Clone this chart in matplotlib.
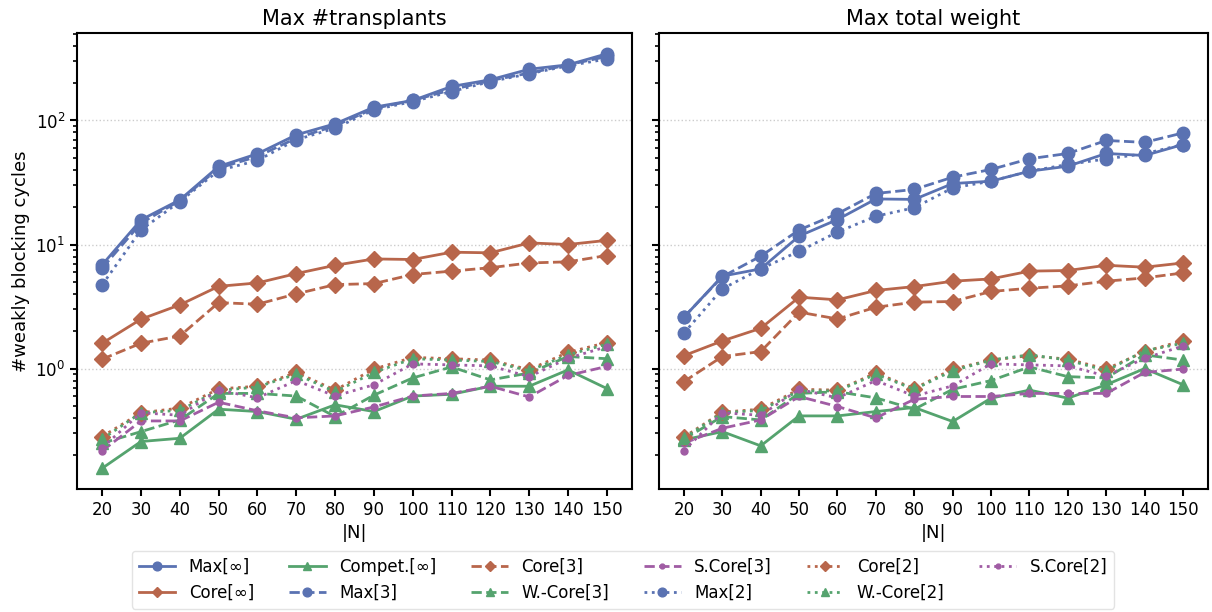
import matplotlib
matplotlib.use("Agg")
import matplotlib.pyplot as plt

n_vals = [20, 30, 40, 50, 60, 70, 80, 90, 100, 110, 120, 130, 140, 150]
panel_titles = ["Max #transplants", "Max total weight"]

# Left panel: maximum number of transplants
left = {
    "Max[∞]":     [6.86, 15.8, 22.9, 42.6, 53.9, 76.6, 94, 128, 145, 188, 213, 259, 281, 345],
    "Core[∞]":    [1.6, 2.5, 3.26, 4.6, 4.9, 5.83, 6.8, 7.65, 7.57, 8.67, 8.57, 10.3, 10.0, 10.8],
    "Compet.[∞]": [0.157, 0.258, 0.274, 0.47, 0.45, 0.39, 0.51, 0.45, 0.60, 0.62, 0.72, 0.72, 0.975, 0.69],
    "Max[3]":     [6.45, 14.9, 22.6, 41.3, 51.3, 72, 90.6, 125, 145, 177, 210, 241, 281, 328],
    "Core[3]":    [1.19, 1.6, 1.83, 3.4, 3.3, 4.0, 4.75, 4.84, 5.73, 6.1, 6.5, 7.1, 7.25, 8.15],
    "W.-Core[3]": [0.25, 0.31, 0.385, 0.63, 0.63, 0.60, 0.41, 0.61, 0.84, 1.03, 0.81, 0.92, 1.25, 1.2],
    "S.Core[3]":  [0.217, 0.378, 0.378, 0.535, 0.456, 0.40, 0.415, 0.49, 0.60, 0.63, 0.72, 0.59, 0.88, 1.04],
    "Max[2]":     [4.73, 13.1, 22.2, 39.5, 47.6, 69.9, 86.7, 122, 142, 171, 206, 238, 276, 313],
    "Core[2]":    [0.283, 0.44, 0.48, 0.685, 0.72, 0.93, 0.67, 0.99, 1.23, 1.2, 1.17, 0.98, 1.35, 1.62],
    "W.-Core[2]": [0.27, 0.44, 0.46, 0.665, 0.71, 0.90, 0.65, 0.93, 1.2, 1.17, 1.14, 0.96, 1.29, 1.57],
    "S.Core[2]":  [0.23, 0.44, 0.42, 0.67, 0.58, 0.80, 0.60, 0.74, 1.09, 1.07, 1.05, 0.86, 1.21, 1.50],
}

# Right panel: maximum total weight
right = {
    "Max[∞]":     [2.59, 5.56, 6.36, 11.7, 15.9, 23.3, 23.1, 31, 32.4, 39, 42.8, 54.2, 52.2, 64],
    "Core[∞]":    [1.27, 1.67, 2.11, 3.76, 3.58, 4.26, 4.58, 5.06, 5.28, 6.1, 6.17, 6.8, 6.56, 7.1],
    "Compet.[∞]": [0.266, 0.31, 0.238, 0.415, 0.415, 0.45, 0.485, 0.374, 0.577, 0.67, 0.577, 0.74, 1.0, 0.74],
    "Max[3]":     [2.6, 5.5, 8.05, 13.1, 17.7, 25.8, 27.8, 34.9, 40.3, 49.1, 54.2, 69, 66.6, 79.4],
    "Core[3]":    [0.785, 1.25, 1.37, 2.85, 2.51, 3.12, 3.43, 3.47, 4.18, 4.44, 4.64, 5.06, 5.38, 5.9],
    "W.-Core[3]": [0.27, 0.41, 0.385, 0.63, 0.65, 0.58, 0.47, 0.68, 0.80, 1.03, 0.86, 0.84, 1.29, 1.17],
    "S.Core[3]":  [0.25, 0.33, 0.385, 0.595, 0.494, 0.40, 0.565, 0.595, 0.595, 0.63, 0.63, 0.63, 0.93, 0.99],
    "Max[2]":     [1.93, 4.39, 6.36, 8.83, 12.6, 16.9, 19.8, 28.6, 32.4, 39, 44.2, 49, 54, 64],
    "Core[2]":    [0.28, 0.445, 0.47, 0.68, 0.67, 0.92, 0.69, 0.99, 1.17, 1.27, 1.19, 0.99, 1.37, 1.68],
    "W.-Core[2]": [0.275, 0.44, 0.46, 0.66, 0.66, 0.90, 0.68, 0.96, 1.17, 1.29, 1.17, 0.96, 1.39, 1.6],
    "S.Core[2]":  [0.218, 0.44, 0.42, 0.68, 0.58, 0.80, 0.60, 0.725, 1.09, 1.07, 1.05, 0.87, 1.21, 1.52],
}

blue = "#5A72B2"
brown = "#B8664B"
green = "#55A36E"
purple = "#A05CA4"

styles = {
    "Max[∞]":     dict(color=blue, ls="-", marker="o", ms=9),
    "Core[∞]":    dict(color=brown, ls="-", marker="D", ms=8),
    "Compet.[∞]": dict(color=green, ls="-", marker="^", ms=9),
    "Max[3]":     dict(color=blue, ls="--", marker="o", ms=9),
    "Core[3]":    dict(color=brown, ls="--", marker="D", ms=8),
    "W.-Core[3]": dict(color=green, ls="--", marker="^", ms=9),
    "S.Core[3]":  dict(color=purple, ls="--", marker="o", ms=5),
    "Max[2]":     dict(color=blue, ls=":", marker="o", ms=9),
    "Core[2]":    dict(color=brown, ls=":", marker="D", ms=8),
    "W.-Core[2]": dict(color=green, ls=":", marker="^", ms=9),
    "S.Core[2]":  dict(color=purple, ls=":", marker="o", ms=5),
}

plt.rcParams["font.family"] = "DejaVu Sans"
fig = plt.figure(figsize=(12.12, 6.12), dpi=100)
ax1 = fig.add_axes([0.0635, 0.201, 0.458, 0.745])
ax2 = fig.add_axes([0.5437, 0.201, 0.453, 0.745], sharey=ax1)

for ax, data, title in [(ax1, left, panel_titles[0]), (ax2, right, panel_titles[1])]:
    for name, vals in data.items():
        st = styles[name]
        ax.plot(n_vals, vals, color=st["color"], linestyle=st["ls"], marker=st["marker"],
                markersize=st["ms"], linewidth=2, label=name)
    ax.set_yscale("log")
    ax.set_xticks(n_vals)
    ax.set_title(title, fontsize=15)
    ax.set_xlabel("|N|", fontsize=13)
    ax.tick_params(axis="both", which="major", labelsize=12, direction="out", length=5, width=1.5)
    ax.tick_params(axis="y", which="minor", direction="out", length=3, width=1.2)
    ax.grid(axis="y", which="major", linestyle=":", color="#CCCCCC", linewidth=1)
    ax.set_axisbelow(True)
    for sp in ax.spines.values():
        sp.set_linewidth(1.5)
        sp.set_color("black")

ax1.set_ylabel("#weakly blocking cycles", fontsize=13)
ax2.tick_params(axis="y", which="both", labelleft=False)

handles, labels = ax1.get_legend_handles_labels()
fig.legend(handles, labels, loc="lower center", ncol=6, bbox_to_anchor=(0.514, -0.008),
           fontsize=12, markerscale=0.7, handlelength=2.2, columnspacing=2.1,
           frameon=True, edgecolor="#DDDDDD", fancybox=True)

fig.savefig("out.png", dpi=100)
